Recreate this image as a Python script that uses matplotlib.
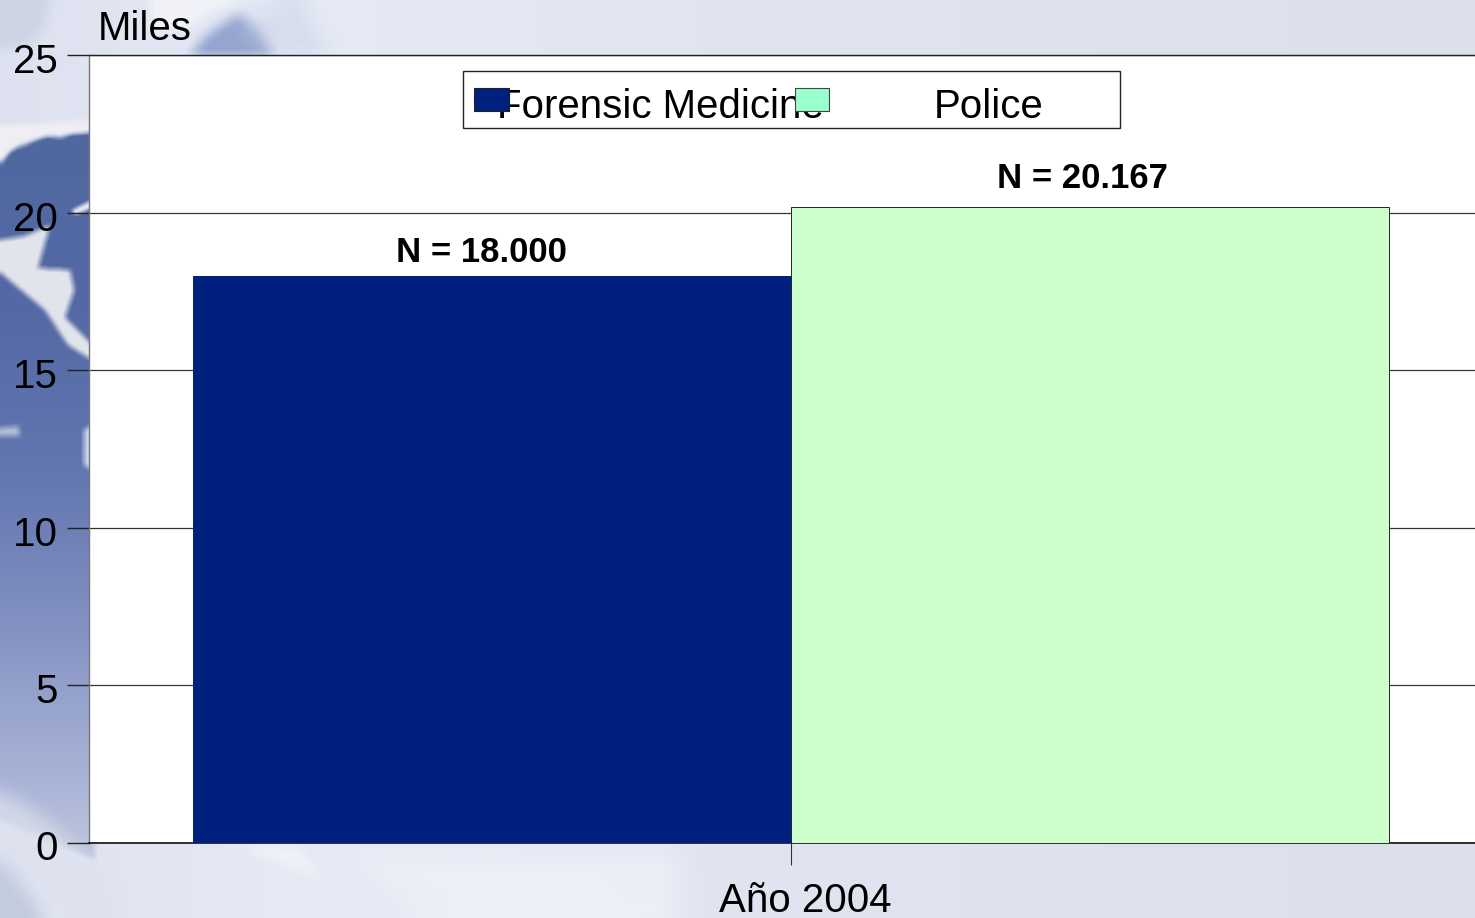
import numpy as np
import matplotlib
matplotlib.use("Agg")
import matplotlib.pyplot as plt
from matplotlib.patches import Rectangle
from matplotlib.path import Path
from matplotlib.transforms import ScaledTranslation

plt.rcParams['font.family'] = ['Liberation Sans', 'DejaVu Sans']

category = ["Año 2004"]
series_names = ["Forensic Medicine", "Police"]
series_values = [18.000, 20.167]
value_labels = ["N = 18.000", "N = 20.167"]
bar_colors = ["#002080", "#CCFFCC"]
legend_colors = ["#002080", "#99FFCC"]
y_ticks = [0, 5, 10, 15, 20, 25]

W, H = 1475, 918
fig = plt.figure(figsize=(W / 100, H / 100), dpi=100)


# ---- decorative slide background (globe picture behind the chart) ----
def box_blur(a, r):
    for axis in (0, 1):
        c = np.cumsum(np.insert(a, 0, 0, axis=axis), axis=axis)
        n = a.shape[axis]
        hi = np.minimum(np.arange(n) + r + 1, n)
        lo = np.maximum(np.arange(n) - r, 0)
        a = (np.take(c, hi, axis=axis) - np.take(c, lo, axis=axis)) / np.reshape(hi - lo, (-1, 1) if axis == 0 else (1, -1))
    return a


yy, xx = np.mgrid[0:H, 0:W]
pts = np.column_stack([xx.ravel() + 0.5, yy.ravel() + 0.5])


def paint(img, poly, rgb, blur=3, alpha=1.0):
    mask = Path(poly).contains_points(pts).reshape(H, W).astype(float)
    mask = box_blur(mask, blur)[:, :, None] * alpha
    return img * (1 - mask) + np.array(rgb, float) * mask


# base: pale blue-grey, lighter towards the left middle
base_x = [0, 300, 700, 1100, 1475]
top_rgb = np.array([[222, 226, 240], [230, 234, 245], [224, 229, 241], [221, 226, 238], [219, 224, 236]])
img = np.zeros((H, W, 3))
for c in range(3):
    img[:, :, c] = np.interp(xx[0], base_x, top_rgb[:, c])[None, :]

# left strip: blue ocean fading to pale at the bottom
stops = [135, 300, 470, 600, 700, 790, 850]
ocean = np.array([[80, 104, 160], [84, 104, 165], [98, 118, 176], [125, 140, 190],
                  [150, 163, 205], [172, 182, 216], [190, 198, 222]])
ocean_col = np.stack([np.interp(np.arange(H), stops, ocean[:, c]) for c in range(3)], axis=1)
mask = np.zeros((H, W))
mask[Path([(0, 165), (10, 150), (25, 145), (45, 135), (60, 138), (75, 132), (95, 132), (95, 860),
           (0, 820)]).contains_points(pts).reshape(H, W)] = 1
mask = box_blur(mask, 3)[:, :, None]
img = img * (1 - mask) + ocean_col[:, None, :] * mask

# clouds and land
img = paint(img, [(0, 0), (50, 0), (45, 25), (30, 45), (0, 50)], (205, 212, 228), 8)
img = paint(img, [(0, 125), (30, 125), (89, 120), (89, 132), (55, 134), (20, 142), (0, 160)], (240, 238, 245), 3)
img = paint(img, [(0, 240), (25, 236), (50, 225), (38, 268), (70, 270), (74, 290), (65, 318), (92, 345), (92, 360),
                  (68, 345), (45, 310), (15, 285), (0, 272)], (226, 228, 235), 3)
img = paint(img, [(72, 210), (92, 200), (92, 208), (75, 215)], (225, 230, 240), 2)
img = paint(img, [(0, 428), (18, 426), (20, 436), (0, 436)], (175, 188, 215), 3)
img = paint(img, [(84, 430), (92, 425), (92, 470), (84, 465)], (205, 214, 235), 3)
img = paint(img, [(150, 0), (240, 0), (205, 15), (185, 30), (150, 30)], (240, 242, 248), 5)
img = paint(img, [(190, 57), (203, 38), (222, 24), (240, 14), (262, 30), (275, 57)], (150, 165, 208), 8)
img = paint(img, [(240, 20), (300, 0), (330, 57), (270, 57)], (205, 213, 232), 14, 0.6)
# bottom streaks
img = paint(img, [(0, 790), (40, 815), (110, 880), (120, 918), (75, 918), (0, 840)], (222, 226, 238), 12, 0.7)
img = paint(img, [(240, 845), (295, 845), (325, 880), (285, 865)], (240, 242, 248), 7)
img = paint(img, [(0, 855), (45, 918), (0, 918)], (195, 203, 222), 12)
img = paint(img, [(340, 850), (680, 850), (680, 918), (420, 918)], (236, 239, 247), 22)

bg = fig.add_axes([0, 0, 1, 1], zorder=0)
bg.imshow(np.clip(img, 0, 255).astype(np.uint8), aspect="auto", extent=(0, W, H, 0), interpolation="nearest")
bg.axis("off")

# ---- chart: the axes extend past the right edge of the slide ----
left, right, top, bottom = 88.5, 1493, 55, 842.5
ax = fig.add_axes([left / W, 1 - bottom / H, (right - left) / W, (bottom - top) / H], zorder=2)
ax.set_facecolor("white")
ax.set_ylim(0, 25)
ax.set_xlim(-0.5, 0.5)
ax.set_yticks(y_ticks)
ax.tick_params(axis="y", length=16, width=1, color="#222222", labelsize=29, pad=6)
shift = ScaledTranslation(0, -3 / 100, fig.dpi_scale_trans)
for lab in ax.get_yticklabels():
    lab.set_transform(lab.get_transform() + shift)
ax.set_xticks([0])
ax.set_xticklabels([""])
ax.tick_params(axis="x", length=15.5, width=0.8, color="#333333")
ax.yaxis.grid(True, color="#333333", lw=0.9)
ax.set_axisbelow(True)
ax.spines["right"].set_visible(False)
ax.spines["left"].set_color("#777777")
ax.spines["left"].set_linewidth(1)
ax.spines["top"].set_color("#222222")
ax.spines["top"].set_linewidth(1)
ax.spines["bottom"].set_color("black")
ax.spines["bottom"].set_linewidth(1.1)

w = 598 / 1404
xs = [-w / 2, w / 2]
edges = ["#002080", "#222222"]
label_offsets_px = [(-10, 7), (-7, 12)]
for x, v, col, e, lab, off in zip(xs, series_values, bar_colors, edges, value_labels, label_offsets_px):
    ax.bar(x, v, width=w, color=col, edgecolor=e, linewidth=0.7, zorder=3)
    ax.annotate(lab, (x, v), xytext=(off[0] * 0.72, off[1] * 0.72), textcoords="offset points",
                ha="center", va="bottom", fontsize=25, fontweight="bold", color="black", zorder=4)

fig.text(805 / W, 1 - 912 / H, category[0], ha="center", va="baseline", fontsize=29, zorder=5)
fig.text(98 / W, 1 - 39.5 / H, "Miles", ha="left", va="baseline", fontsize=29, zorder=5)

# legend box
ov = fig.add_axes([0, 0, 1, 1], zorder=6)
ov.set_xlim(0, W)
ov.set_ylim(H, 0)
ov.axis("off")
ov.add_patch(Rectangle((463, 71), 657, 57, fc="white", ec="#222222", lw=1, zorder=1))
ov.text(497, 118, series_names[0], ha="left", va="baseline", fontsize=29, zorder=2)
ov.text(934, 118, series_names[1], ha="left", va="baseline", fontsize=29, zorder=2)
ov.add_patch(Rectangle((474, 88), 35, 23, fc=legend_colors[0], ec="#222222", lw=0.8, zorder=3))
ov.add_patch(Rectangle((795, 88), 34, 23, fc=legend_colors[1], ec="#444444", lw=0.8, zorder=3))

fig.savefig("out.png", dpi=100)
